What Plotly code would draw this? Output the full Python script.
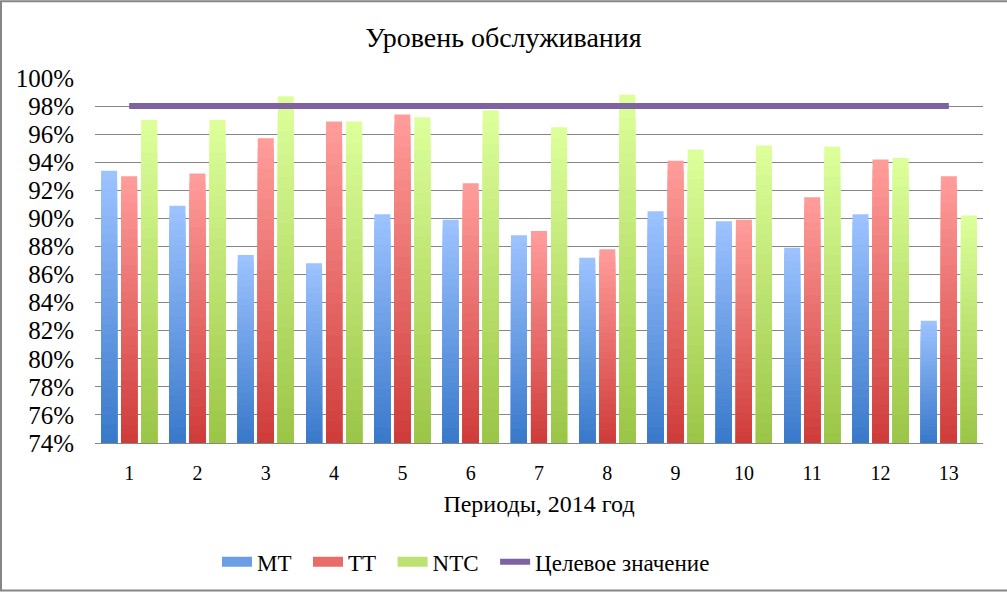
import plotly.graph_objects as go

periods = [str(i) for i in range(1, 14)]
mt = [0.934, 0.909, 0.874, 0.868, 0.903, 0.899, 0.888, 0.872, 0.905, 0.898, 0.879, 0.903, 0.827]
tt = [0.930, 0.932, 0.957, 0.969, 0.974, 0.925, 0.891, 0.878, 0.941, 0.899, 0.915, 0.942, 0.930]
ntc = [0.970, 0.970, 0.987, 0.969, 0.972, 0.977, 0.965, 0.988, 0.949, 0.952, 0.951, 0.943, 0.902]
target = [0.98] * 13

series = [
    ("MT", mt, (0x9C, 0xC2, 0xFF), (0x3A, 0x7A, 0xCB)),
    ("TT", tt, (0xFF, 0x9C, 0x9A), (0xCF, 0x3D, 0x3B)),
    ("NTC", ntc, (0xDC, 0xFF, 0x9A), (0x9C, 0xC6, 0x48)),
]
BASE = 0.74
N = 30
SERIF = "Liberation Serif"
PAD = "\u00a0\u00a0"

fig = go.Figure()
for name, vals, top, bot in series:
    for k in range(N):
        f = 1 - k / N
        t = k / (N - 1)
        c = tuple(round(top[i] + (bot[i] - top[i]) * t) for i in range(3))
        fig.add_trace(go.Bar(
            x=periods, y=[(v - BASE) * f for v in vals], base=BASE,
            offsetgroup=name, name=name, legendgroup=name,
            showlegend=False, marker_color="rgb(%d,%d,%d)" % c,
            marker_line_width=0, hoverinfo="skip" if k else None,
        ))

# legend entries (wide rectangles like the original legend keys)
for name, vals, top, bot in series:
    mid = tuple(round((top[i] + bot[i]) / 2) for i in range(3))
    fig.add_trace(go.Scatter(
        x=[None], y=[None], mode="lines", name=name + PAD, legendgroup=name,
        line=dict(color="rgb(%d,%d,%d)" % mid, width=12),
    ))

fig.add_trace(go.Scatter(
    x=periods, y=target, mode="lines", name="Целевое значение",
    line=dict(color="#7E62A1", width=6),
))

fig.update_layout(
    width=1007, height=594,
    margin=dict(l=95, r=24, t=78, b=150),
    paper_bgcolor="white", plot_bgcolor="white",
    barmode="group", bargap=0.12, bargroupgap=0.2,
    font=dict(family=SERIF, color="black"),
    title=dict(text="Уровень обслуживания", x=0.5, xanchor="center",
               y=1 - 37 / 594, yanchor="middle", font=dict(size=28, family=SERIF)),
    showlegend=True,
    legend=dict(orientation="h", x=(466 - 95) / 888, xanchor="center", y=-0.322, yanchor="middle",
                font=dict(size=23, family=SERIF), traceorder="normal"),
    xaxis=dict(type="category", showgrid=False, showline=True, linecolor="#868686",
               linewidth=1, ticks="", tickfont=dict(size=20, family=SERIF),
               ticklabelstandoff=12,
               title=dict(text="Периоды, 2014 год", font=dict(size=24, family=SERIF), standoff=12)),
    yaxis=dict(range=[0.74, 1.0], dtick=0.02, tickformat=".0%", showgrid=True,
               gridcolor="#868686", gridwidth=1, zeroline=False, showline=False,
               tickfont=dict(size=25, family=SERIF), ticks="", ticklabelstandoff=20),
    shapes=[dict(type="rect", xref="paper", yref="paper",
                 x0=-94 / 888, x1=1021 / 888, y0=-148 / 366, y1=443 / 366,
                 line=dict(color="#868686", width=2), layer="above")],
)

fig.write_html("out.html")
